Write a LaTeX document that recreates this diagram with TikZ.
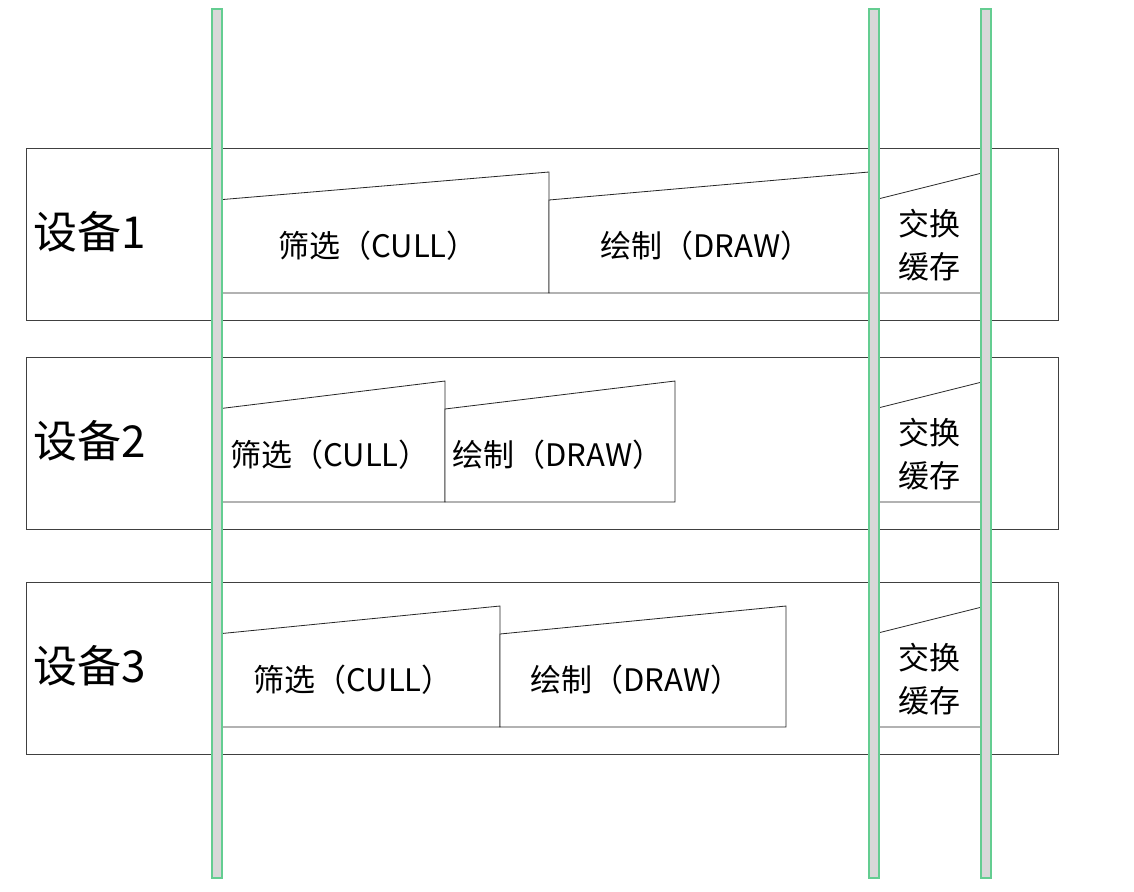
\documentclass[tikz,border=0pt]{standalone}
\usepackage{fontspec}
\setmainfont{Noto Sans CJK SC}
\usepackage{tikz}
\definecolor{barline}{RGB}{100,205,145}
\definecolor{barfill}{RGB}{216,216,216}
\tikzset{
  lane/.style={draw=black!75, line width=.8pt, fill=white},
  stage/.style={draw=black!85, line width=.8pt, fill=white},
  timebar/.style={draw=barline, fill=barfill, line width=1.3pt},
  devlabel/.style={font=\fontsize{44}{44}\selectfont, anchor=west, inner sep=0pt},
  stagetext/.style={font=\fontsize{31}{43}\selectfont, align=center, inner sep=0pt},
}

\begin{document}
\begin{tikzpicture}[x=1pt,y=-1pt]
        \useasboundingbox (0,0) rectangle (1134,891);
        \foreach \n/\t/\c/\d/\tc/\td in {1/148/549/869/378/706, 2/357/445/675/330/558, 3/582/500/786/353/636}{
            \draw[lane] (26,\t) rectangle (1058,\t+172);
            \node[devlabel] (dev\n) at (33,\t+84) {设备\n};
            \draw[stage] (217,\t+52) -- (\c,\t+24) -- (\c,\t+145) -- (217,\t+145) -- cycle;
            \draw[stage] (\c,\t+52) -- (\d,\t+24) -- (\d,\t+145) -- (\c,\t+145) -- cycle;
            \draw[stage] (874,\t+52) -- (986,\t+24) -- (986,\t+145) -- (874,\t+145) -- cycle;
            \node[stagetext] (cull\n) at (\tc,\t+97.5) {筛选（CULL）};
            \node[stagetext] (render\n) at (\td,\t+97.5) {绘制（DRAW）};
            \node[stagetext] (swap\n) at (929,\t+97.5) {交换\\缓存};
        }
        \foreach \x in {217,874,986}
            \draw[timebar] (\x-5,9) rectangle (\x+5,878);
    \end{tikzpicture}
\end{document}
